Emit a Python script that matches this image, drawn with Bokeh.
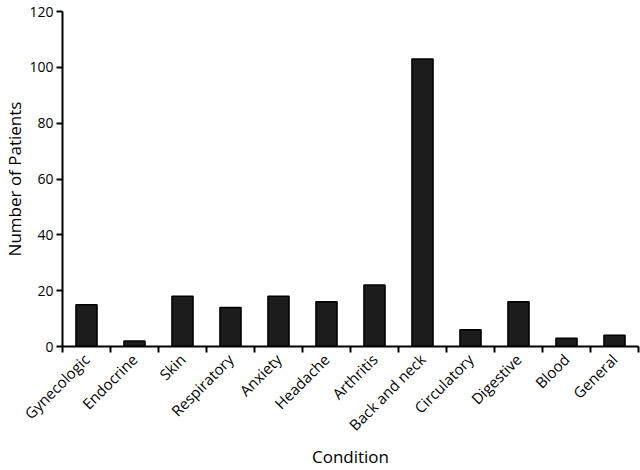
import math
from bokeh.plotting import figure
from bokeh.models import FixedTicker, ColumnDataSource
from bokeh.embed import file_html
from bokeh.resources import INLINE

conditions = ["Gynecologic", "Endocrine", "Skin", "Respiratory", "Anxiety", "Headache",
              "Arthritis", "Back and neck", "Circulatory", "Digestive", "Blood", "General"]
patients = [15, 2, 18, 14, 18, 16, 22, 103, 6, 16, 3, 4]
y_ticks = [0, 20, 40, 60, 80, 100, 120]

centers = [i + 0.5 for i in range(len(conditions))]
bounds = list(range(len(conditions) + 1))

src = ColumnDataSource(dict(x=centers, top=patients))

p = figure(width=640, height=470, output_backend="svg", toolbar_location=None,
           x_range=(0, len(conditions)), y_range=(0, 120),
           min_border_left=10, min_border_right=2, min_border_top=11, min_border_bottom=10)
p.outline_line_color = None
p.xgrid.visible = False
p.ygrid.visible = False

p.vbar(x="x", top="top", bottom=0, width=0.44, source=src,
       fill_color="#1c1c1c", line_color="black", line_width=1.5)

font = "Open Sans"
xa = p.xaxis[0]
xa.ticker = FixedTicker(ticks=centers, minor_ticks=bounds)
xa.major_label_overrides = {c: n for c, n in zip(centers, conditions)}
xa.major_label_orientation = math.pi / 4
xa.major_tick_line_color = None
xa.minor_tick_line_color = "black"
xa.minor_tick_line_width = 2
xa.minor_tick_in = 0
xa.minor_tick_out = 6
xa.major_label_standoff = 4
xa.major_label_text_font_size = "15px"
xa.axis_label = "Condition"
xa.axis_label_standoff = 0

ya = p.yaxis[0]
ya.ticker = FixedTicker(ticks=y_ticks)
ya.major_tick_in = 0
ya.major_tick_out = 6
ya.major_tick_line_width = 2
ya.minor_tick_line_color = None
ya.major_label_standoff = 3
ya.major_label_text_font_size = "14px"
ya.axis_label = "Number of Patients"
ya.axis_label_standoff = 0

for ax in (xa, ya):
    ax.axis_line_width = 2
    ax.axis_line_color = "black"
    ax.major_label_text_font = font
    ax.major_label_text_color = "black"
    ax.axis_label_text_font = font
    ax.axis_label_text_font_size = "17px"
    ax.axis_label_text_font_style = "normal"
    ax.axis_label_text_color = "black"

open("out.html", "w").write(file_html(p, INLINE))
